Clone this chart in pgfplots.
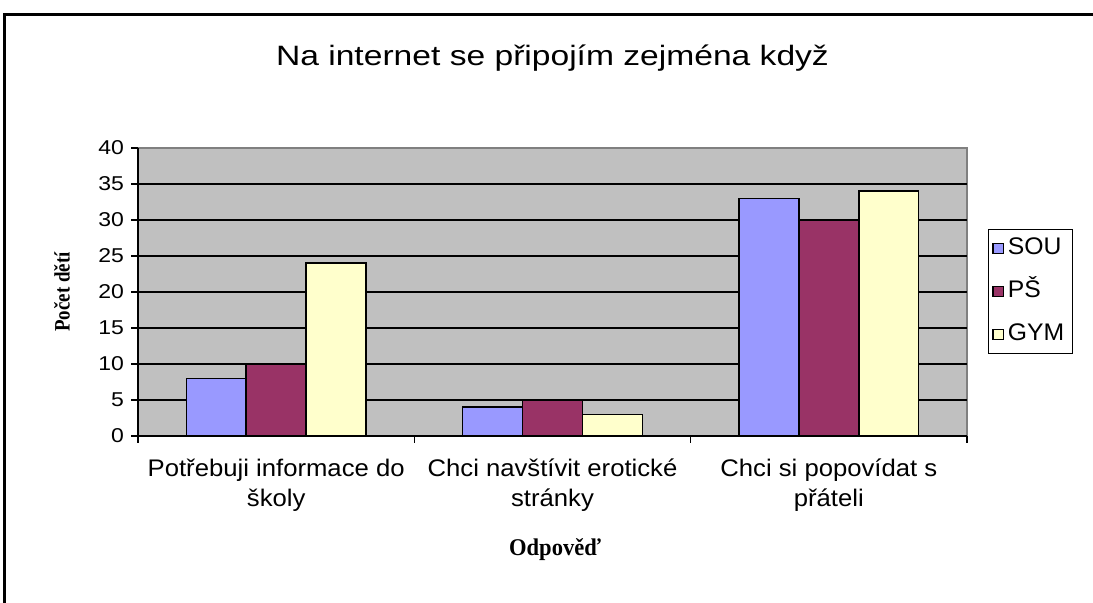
\documentclass[border=0pt]{standalone}
\usepackage{fontspec}
\setmainfont{Liberation Sans}[FakeStretch=1.15]
\newfontfamily\titlefont{Liberation Sans}[FakeStretch=1.2]
\newfontfamily\tickfont{Liberation Sans}[FakeStretch=1.07]
\newfontfamily\legfont{Liberation Sans}[FakeStretch=1.03]
\newfontfamily\serifx{Liberation Serif}[FakeStretch=0.94]
\newfontfamily\serify{Liberation Serif}[FakeStretch=0.86]
\usepackage{pgfplots}
\pgfplotsset{compat=1.18}
\definecolor{sou}{HTML}{9999FF}
\definecolor{ps}{HTML}{993366}
\definecolor{gym}{HTML}{FFFFCC}
\definecolor{plotbg}{HTML}{C0C0C0}
\begin{document}
\begin{tikzpicture}
\path[use as bounding box] (0,0) rectangle (546.5pt,301.5pt);
\draw[line width=1.5pt] (2.25pt,0) |- (546.5pt,294pt);
\begin{axis}[
    at={(69pt,83.5pt)}, anchor=south west,
    scale only axis, width=414.5pt, height=144pt,
    xmin=-0.5, xmax=2.5, ymin=0, ymax=40,
    ybar=0pt, bar width=0.217,
    axis x line*=bottom, axis y line*=left,
    axis line style={-, black, line width=0.8pt},
    axis background/.style={fill=plotbg, draw=gray, line width=0.8pt},
    xtick={-0.5,0.5,1.5,2.5}, xticklabels={},
    extra x ticks={0,1,2},
    extra x tick labels={Potřebuji informace do\\školy, Chci navštívit erotické\\stránky, Chci si popovídat s\\přáteli},
    extra x tick style={major tick length=0pt, tick label style={align=center, font=\tickfont\fontsize{12}{15}\selectfont, yshift=-8pt}},
    ytick={0,5,...,35}, extra y ticks={40}, extra y tick style={grid=none},
    ymajorgrids, grid style={black, line width=0.8pt},
    tick align=outside, major tick length=3.5pt,
    tick style={black, line width=0.7pt},
    yticklabel style={font=\fontsize{10}{12}\selectfont},
    /pgf/number format/assume math mode=true,
    title={Na internet se připojím zejména když},
    title style={at={(0.5,1.271)}, anchor=center, font=\titlefont\fontsize{14}{17}\selectfont},
    xlabel={Odpověď},
    xlabel style={at={(0.503,-0.396)}, anchor=center, font=\serifx\bfseries\fontsize{12}{14}\selectfont},
    ylabel={Počet dětí},
    ylabel style={at={(-0.0917,0.5)}, anchor=center, rotate=0, font=\serify\bfseries\fontsize{11}{13}\selectfont},
    legend style={at={(1.025,0.502)}, anchor=west, draw=black, line width=0.6pt,
        font=\legfont\fontsize{12}{14}\selectfont, row sep=6.4pt, inner sep=2pt,
        nodes={text height=8.6pt, text depth=2.5pt}},
    legend cell align=left,
    legend image code/.code={\draw[#1, line width=0.6pt] (0pt,-2.6pt) rectangle (5.2pt,2.6pt);},
]
\addplot[fill=sou, draw=black, line width=0.7pt] coordinates {(0,8) (1,4) (2,33)};
\addplot[fill=ps, draw=black, line width=0.7pt] coordinates {(0,10) (1,5) (2,30)};
\addplot[fill=gym, draw=black, line width=0.7pt] coordinates {(0,24) (1,3) (2,34)};
\legend{SOU, PŠ, GYM}
\end{axis}
\end{tikzpicture}
\end{document}
